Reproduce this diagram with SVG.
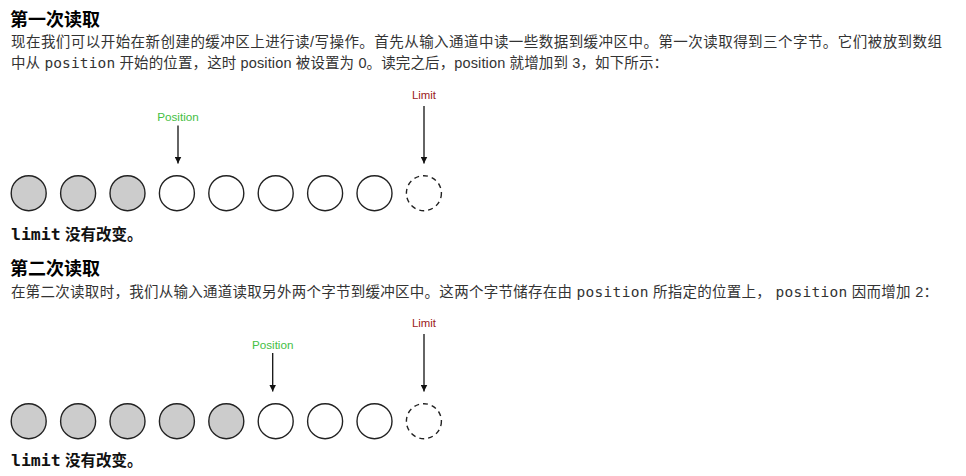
<svg xmlns="http://www.w3.org/2000/svg" width="966" height="476" viewBox="0 0 966 476">
<style>
.title{font-family:"Liberation Sans","Noto Sans CJK SC",sans-serif;font-size:18px;font-weight:bold;fill:#000}
.body{font-family:"Liberation Sans","Noto Sans CJK SC",sans-serif;font-size:14.5px;fill:#333}
.mono{font-family:"DejaVu Sans Mono","Liberation Mono","Noto Sans CJK SC",monospace}
.note{font-family:"Liberation Sans","Noto Sans CJK SC",sans-serif;font-size:15.5px;font-weight:bold;fill:#111}
.pos{font-family:"Liberation Sans",sans-serif;font-size:11.7px;fill:#44c044;text-anchor:middle}
.lim{font-family:"Liberation Sans",sans-serif;font-size:11.4px;fill:#9b1b1b;text-anchor:middle}
.full{fill:#cccccc;stroke:#222;stroke-width:1.4}
.empty{fill:#fff;stroke:#222;stroke-width:1.4}
.cap{fill:#fff;stroke:#222;stroke-width:1.4;stroke-dasharray:5,4}
.arrow{stroke:#111;stroke-width:1.3;fill:none;marker-end:url(#ah)}
</style>
<defs>
<marker id="ah" viewBox="0 0 10 10" refX="10" refY="5" markerWidth="7" markerHeight="7" markerUnits="userSpaceOnUse" orient="auto">
<path d="M0,0 L10,5 L0,10 z" fill="#111"/>
</marker>
</defs>
<rect width="966" height="476" fill="#fff"/>

<g id="section1-text">
<text class="title" x="10" y="26">第一次读取</text>
<text class="body" x="11" y="47" textLength="931" lengthAdjust="spacing">现在我们可以开始在新创建的缓冲区上进行读/写操作。首先从输入通道中读一些数据到缓冲区中。第一次读取得到三个字节。它们被放到数组</text>
<text class="body" x="11" y="68" textLength="657" lengthAdjust="spacing">中从 <tspan class="mono">position</tspan> 开始的位置，这时 position 被设置为 0。读完之后，position 就增加到 3，如下所示：</text>
</g>

<g id="row1">
<g id="r1-c1"><circle class="full" cx="28.7" cy="193.2" r="17.5"/></g>
<g id="r1-c2"><circle class="full" cx="78.1" cy="193.2" r="17.5"/></g>
<g id="r1-c3"><circle class="full" cx="127.5" cy="193.2" r="17.5"/></g>
<g id="r1-c4"><circle class="empty" cx="176.9" cy="193.2" r="17.5"/></g>
<g id="r1-c5"><circle class="empty" cx="226.3" cy="193.2" r="17.5"/></g>
<g id="r1-c6"><circle class="empty" cx="275.7" cy="193.2" r="17.5"/></g>
<g id="r1-c7"><circle class="empty" cx="325.1" cy="193.2" r="17.5"/></g>
<g id="r1-c8"><circle class="empty" cx="374.5" cy="193.2" r="17.5"/></g>
<g id="r1-c9"><circle class="cap" cx="423.9" cy="193.2" r="17.5"/></g>
<g id="r1-position"><text class="pos" x="178" y="120.5">Position</text></g>
<g id="r1-limit"><text class="lim" x="424" y="99">Limit</text></g>
</g>

<g id="note1"><text class="note" x="11" y="240"><tspan class="mono" font-size="16.5px">limit</tspan> 没有改变。</text></g>

<g id="section2-text">
<text class="title" x="10" y="275">第二次读取</text>
<text class="body" x="11" y="297" textLength="927" lengthAdjust="spacing">在第二次读取时，我们从输入通道读取另外两个字节到缓冲区中。这两个字节储存在由 <tspan class="mono">position</tspan> 所指定的位置上， <tspan class="mono">position</tspan> 因而增加 2：</text>
</g>

<g id="row2">
<g id="r2-c1"><circle class="full" cx="28.7" cy="421.2" r="17.5"/></g>
<g id="r2-c2"><circle class="full" cx="78.1" cy="421.2" r="17.5"/></g>
<g id="r2-c3"><circle class="full" cx="127.5" cy="421.2" r="17.5"/></g>
<g id="r2-c4"><circle class="full" cx="176.9" cy="421.2" r="17.5"/></g>
<g id="r2-c5"><circle class="full" cx="226.3" cy="421.2" r="17.5"/></g>
<g id="r2-c6"><circle class="empty" cx="275.7" cy="421.2" r="17.5"/></g>
<g id="r2-c7"><circle class="empty" cx="325.1" cy="421.2" r="17.5"/></g>
<g id="r2-c8"><circle class="empty" cx="374.5" cy="421.2" r="17.5"/></g>
<g id="r2-c9"><circle class="cap" cx="423.9" cy="421.2" r="17.5"/></g>
<g id="r2-position"><text class="pos" x="272.7" y="349">Position</text></g>
<g id="r2-limit"><text class="lim" x="424" y="327">Limit</text></g>
</g>

<g id="note2"><text class="note" x="11" y="466"><tspan class="mono" font-size="16.5px">limit</tspan> 没有改变。</text></g>

<g id="connectors">
<line class="arrow" x1="178" y1="125.5" x2="178" y2="163.5"/>
<line class="arrow" x1="424" y1="106" x2="424" y2="163.5"/>
<line class="arrow" x1="272.7" y1="353" x2="272.7" y2="391.5"/>
<line class="arrow" x1="424" y1="334" x2="424" y2="391.5"/>
</g>
</svg>
